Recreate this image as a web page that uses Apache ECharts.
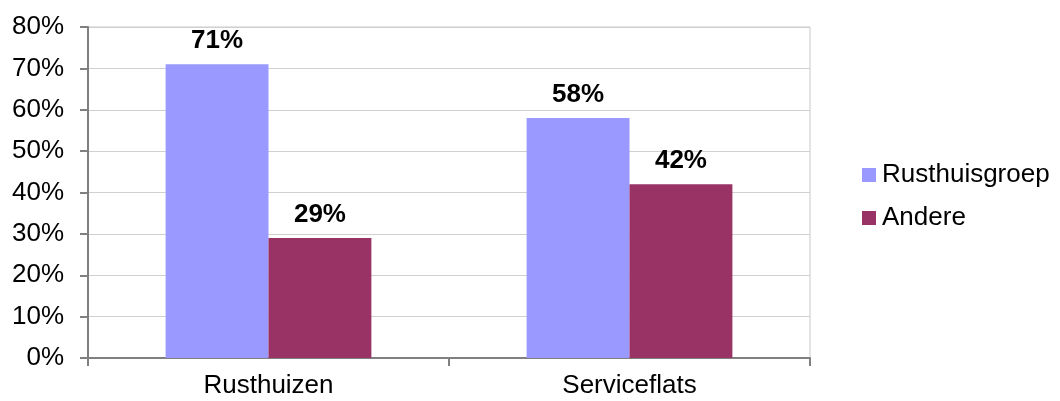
<!DOCTYPE html>
<html>
<head>
  <meta charset="UTF-8">
  <title>Rusthuisgroep</title>
  <style>
    *{ margin: 0; padding: 0; }
    body{ background: #ffffff; }
    #chart{ width: 1060px; height: 401px; }
  </style>
</head>
<body>
<div id="chart"></div>
<script src="https://cdn.jsdelivr.net/npm/echarts@6/dist/echarts.min.js"></script>
<script>
  // categorieen en waarden (in %)
  var categories = ['Rusthuizen', 'Serviceflats'];
  var rusthuisgroep = [71, 58];
  var andere = [29, 42];
  var yTicks = [0, 10, 20, 30, 40, 50, 60, 70, 80];

  var font = 'Liberation Sans, Arial, sans-serif';
  var myChart = echarts.init(document.getElementById('chart'));

  var labelCfg = {
    show: true,
    position: 'top',
    distance: 10,
    formatter: '{c}%',
    color: '#000',
    fontSize: 26,
    fontWeight: 'bold',
    fontFamily: font
  };

  var option = {
    animation: false,
    grid: { left: 88, right: 250, top: 27, bottom: 43, show: true, borderColor: '#c8c8c8', borderWidth: 1 },
    legend: {
      orient: 'vertical',
      left: 862,
      top: 162,
      padding: 0,
      itemWidth: 14,
      itemHeight: 14,
      itemGap: 17,
      icon: 'rect',
      textStyle: { fontSize: 26, fontFamily: font, color: '#000', padding: [0, 0, 0, 1] },
      data: ['Rusthuisgroep', 'Andere']
    },
    xAxis: {
      type: 'category',
      data: categories,
      axisLine: { lineStyle: { color: '#808080', width: 2 } },
      axisTick: { show: true, length: 8, lineStyle: { color: '#808080', width: 2 } },
      axisLabel: { fontSize: 26, fontFamily: font, color: '#000', margin: 15 }
    },
    yAxis: {
      type: 'value',
      min: yTicks[0],
      max: yTicks[yTicks.length - 1],
      interval: 10,
      axisLine: { show: true, lineStyle: { color: '#808080', width: 2 } },
      axisTick: { show: true, length: 8, lineStyle: { color: '#808080', width: 2 } },
      axisLabel: { fontSize: 26, fontFamily: font, color: '#000', margin: 24, formatter: '{value}%' },
      splitLine: { lineStyle: { color: '#d0d0d0', width: 1 } }
    },
    series: [
      {
        name: 'Rusthuisgroep',
        type: 'bar',
        data: rusthuisgroep,
        itemStyle: { color: '#9999ff' },
        barGap: '0%',
        barCategoryGap: '43%',
        label: labelCfg
      },
      {
        name: 'Andere',
        type: 'bar',
        data: andere,
        itemStyle: { color: '#993366' },
        label: labelCfg
      }
    ]
  };

  myChart.setOption(option);
</script>
</body>
</html>
